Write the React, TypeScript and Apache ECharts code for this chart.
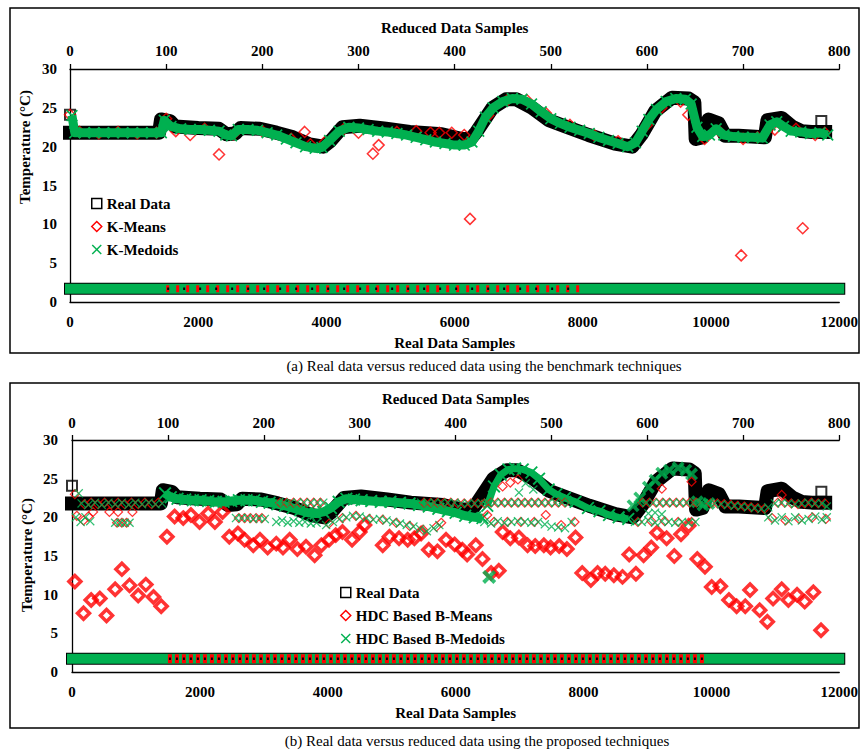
import React, { useEffect, useRef } from "react";
import * as echarts from "echarts";

const FONT = "'Liberation Serif', 'Times New Roman', serif";
const GREEN = "#00B050";
const RED = "#FF0000";

// Real (raw) temperature trace, indexed by real sample number
const realSampleIndex = [0, 1390, 1420, 1560, 1640, 2000, 2320, 2440, 2580, 2660, 2960, 3220, 3480, 3740, 3950, 4060, 4250, 4520, 4930, 5300, 5800, 6100, 6250, 6340, 6590, 6800, 6960, 7210, 7470, 7730, 8090, 8500, 8770, 8920, 9130, 9390, 9650, 9740, 9760, 9860, 9960, 10120, 10220, 10430, 10840, 10880, 11100, 11260, 11410, 11570, 11780];
const realTemperature = [21.8, 21.8, 23.5, 23.3, 22.6, 22.4, 22.3, 21.6, 21.7, 22.4, 22.3, 21.8, 21.2, 20.3, 20.0, 20.7, 22.5, 22.7, 22.3, 21.9, 21.6, 21.0, 21.0, 21.9, 25.0, 26.1, 26.1, 25.0, 23.4, 22.6, 21.5, 20.4, 20.0, 21.6, 24.6, 26.3, 26.2, 25.7, 21.0, 21.2, 23.5, 23.0, 21.4, 21.4, 21.2, 23.4, 23.7, 22.6, 22.0, 21.9, 21.9];
const realIsolatedIndex = [0, 11720];
const realIsolatedTemp = [24.1, 23.3];

// Row of markers drawn at the foot of both panels
const stripLevel = 1.7;
const stripSpan = [0, 12000];
const kMeansStripSpan = [1500, 8000];
const bMeansStripSpan = [1500, 9925];

// (a) K-Means: [reduced sample, temperature]
const kMeansPoints: number[][] = [
  [0, 24.1], [155, 19.0], [244, 21.9], [315, 19.1], [321, 20.2], [384, 21.8], [397, 21.8], [416, 10.7], [643, 24.1], [698, 6.0], [729, 22.6], [762, 9.5],
  [10, 21.9], [30, 21.7], [50, 21.9], [70, 21.7], [90, 21.8], [100, 23.6], [110, 22.0], [125, 21.5], [140, 22.3], [170, 21.6], [200, 22.0], [230, 21.0],
  [250, 20.3], [265, 20.6], [285, 22.3], [300, 21.8], [340, 21.9], [360, 22.0], [375, 21.8], [410, 21.5], [435, 24.0], [455, 26.0], [475, 26.0],
  [495, 24.3], [520, 22.8], [545, 21.5], [570, 20.7], [600, 22.8], [615, 25.0], [635, 25.8], [660, 21.0], [675, 22.0], [700, 21.0], [715, 21.2],
  [733, 22.2], [755, 22.3], [775, 21.5], [785, 21.8],
];

// (a) K-Medoids: [reduced sample, temperature]
const kMedoidsPoints: number[][] = [
  [2, 24.0], [5, 21.8], [15, 21.8], [25, 21.8], [35, 21.8], [45, 21.8], [55, 21.8], [65, 21.8], [75, 21.8], [85, 21.8], [95, 21.8], [98, 23.4],
  [105, 22.6], [115, 22.3], [125, 22.2], [135, 22.2], [145, 22.1], [155, 22.0], [162, 21.5], [168, 21.4], [175, 22.2], [185, 22.2], [195, 22.1],
  [205, 21.8], [215, 21.5], [225, 21.0], [235, 20.5], [245, 20.0], [255, 19.8], [262, 19.9], [270, 20.8], [280, 22.0], [290, 22.5], [300, 22.4],
  [310, 22.2], [320, 22.0], [330, 21.9], [340, 21.7], [350, 21.5], [360, 21.2], [370, 20.9], [380, 20.6], [390, 20.4], [400, 20.2], [410, 20.2],
  [418, 20.6], [425, 22.0], [432, 23.8], [440, 25.0], [450, 25.8], [460, 26.2], [470, 26.1], [480, 25.5], [490, 24.5], [500, 23.6], [510, 23.0],
  [520, 22.5], [530, 22.1], [540, 21.7], [550, 21.2], [560, 20.8], [570, 20.4], [580, 20.0], [588, 20.5], [595, 22.0], [602, 23.5], [610, 24.8],
  [620, 25.8], [630, 26.2], [640, 26.1], [646, 25.5], [652, 22.5], [658, 21.3], [665, 21.5], [672, 22.3], [680, 21.5], [690, 21.3], [700, 21.2],
  [710, 21.2], [720, 21.1], [728, 22.8], [735, 23.2], [742, 22.6], [750, 22.0], [760, 21.9], [770, 21.7], [780, 21.8], [788, 21.5],
];

// (b) HDC Based B-Means, centroids far from the trace
const bMeansLow: number[][] = [
  [3, 11.7], [12, 7.6], [20, 9.3], [29, 9.5], [36, 7.3], [45, 10.7], [52, 13.3], [60, 11.2], [69, 9.9], [77, 11.3], [85, 9.7], [93, 8.5],
  [99, 17.5], [107, 20.1], [116, 19.9], [124, 20.3], [133, 19.4], [142, 20.5], [149, 19.4], [157, 20.7], [164, 17.5], [173, 17.9], [180, 17.1],
  [189, 16.4], [196, 17.1], [204, 16.1], [213, 16.6], [220, 16.1], [227, 17.1], [235, 15.9], [244, 16.2], [253, 15.1], [260, 16.4], [268, 17.1],
  [275, 17.7], [282, 18.1], [292, 17.1], [300, 18.1], [305, 19.0], [324, 16.4], [331, 17.5], [341, 17.3], [350, 17.1], [357, 17.3], [364, 17.9],
  [372, 15.8], [381, 15.6], [390, 17.1], [399, 16.5], [407, 15.8], [412, 15.2], [421, 16.4], [428, 14.6], [437, 12.8], [445, 13.1], [449, 18.1],
  [457, 17.3], [466, 17.4], [475, 16.4], [483, 16.3], [492, 16.4], [499, 16.1], [508, 16.3], [516, 15.9], [525, 17.4], [532, 12.8], [541, 11.9],
  [548, 12.8], [556, 12.7], [565, 12.5], [574, 12.3], [581, 15.2], [588, 12.7], [596, 15.1], [604, 16.1], [610, 18.0], [620, 17.3], [628, 15.0],
  [635, 17.8], [643, 18.9], [652, 14.6], [660, 13.6], [667, 11.0], [676, 11.1], [685, 9.3], [693, 8.5], [702, 8.5], [707, 10.6], [717, 8.0],
  [725, 6.5], [731, 9.5], [740, 10.7], [747, 9.3], [756, 10.0], [764, 9.1], [773, 10.3], [781, 5.4],
];

// (b) HDC Based B-Means, centroids close to the trace
const bMeansNear: number[][] = [
  [3, 23.0], [5, 20.2], [12, 19.6], [17, 20.1],
  [13, 21.7], [20, 21.9], [27, 21.7], [34, 21.9], [41, 21.7], [48, 21.9], [55, 21.7], [62, 21.9], [69, 21.7], [76, 21.9], [83, 21.7], [90, 21.9],
  [22, 20.7], [39, 20.7], [48, 20.7], [63, 20.7], [47, 19.3], [52, 19.3], [57, 19.3],
  [174, 19.9], [180, 19.9], [186, 19.9], [192, 19.9], [198, 19.9],
  [217, 21.9], [224, 21.9], [231, 21.9], [238, 21.9], [245, 21.9], [252, 21.9], [259, 21.9],
  [268, 19.2], [282, 19.9], [296, 20.2], [310, 19.8], [324, 19.7], [338, 19.3], [352, 18.9], [366, 18.4], [380, 18.8], [385, 19.3],
  [367, 21.9], [374, 21.9], [381, 21.9], [388, 21.9], [395, 21.9], [402, 21.8], [409, 21.8], [416, 21.8], [423, 21.8], [430, 21.8],
  [437, 21.9], [444, 21.9], [451, 21.9], [458, 21.9], [465, 21.9], [472, 21.9], [479, 21.9], [486, 21.9], [493, 21.9], [500, 21.9], [507, 21.9], [514, 21.9],
  [433, 20.3], [440, 19.4], [454, 19.4], [468, 19.4], [482, 19.4], [494, 20.3], [510, 19.0], [524, 19.4],
  [449, 24.0], [457, 24.5], [465, 24.9],
  [595, 21.9], [602, 21.9], [609, 21.9], [616, 21.9], [623, 21.9], [630, 21.9], [637, 21.9], [644, 21.9], [651, 21.9],
  [590, 19.4], [604, 19.5], [618, 19.5], [632, 19.4], [646, 19.4], [615, 23.7], [646, 24.6],
  [666, 21.8], [673, 21.8], [680, 21.7], [687, 21.6], [694, 21.5], [701, 21.4], [708, 21.3], [715, 21.2], [722, 21.1],
  [736, 21.9], [743, 21.9], [750, 21.8], [757, 21.7], [764, 21.8], [771, 21.9], [778, 21.8], [785, 21.8],
  [740, 22.9], [730, 19.9], [744, 19.6], [758, 19.8], [772, 20.0], [786, 19.8],
];

// (b) HDC Based B-Medoids that follow the trace
const bMedoidsTraceA: number[][] = [
  [97, 23.1], [103, 22.6], [110, 22.4], [118, 22.3], [126, 22.2], [134, 22.2], [142, 22.1], [150, 22.0], [158, 22.0], [166, 22.1], [174, 22.2],
  [182, 22.2], [190, 22.2], [198, 22.0], [206, 21.9], [214, 21.7], [222, 21.5], [230, 21.2], [238, 20.9], [246, 20.6], [254, 20.5], [262, 20.7],
  [270, 21.2], [278, 22.0], [286, 22.4], [294, 22.3], [302, 22.2], [312, 22.1], [322, 22.0], [332, 22.0], [342, 21.9], [352, 21.8], [362, 21.6],
  [372, 21.4], [382, 21.1], [392, 20.8], [400, 20.6], [410, 20.2], [420, 20.0], [428, 19.9],
];
const bMedoidsTraceB: number[][] = [
  [433, 21.5], [440, 24.0], [447, 25.5], [455, 26.2], [462, 26.3], [470, 26.2], [479, 25.8], [487, 25.0], [497, 23.6], [505, 23.0], [514, 22.5],
  [525, 22.0], [538, 21.2], [550, 20.8], [560, 20.3], [570, 20.0], [580, 19.8],
];
const bMedoidsTraceC: number[][] = [
  [585, 21.5], [592, 22.5], [601, 23.9], [608, 24.8], [615, 25.7], [623, 26.1], [632, 26.4], [640, 26.1], [646, 25.6], [652, 22.0], [658, 21.6], [664, 21.8],
];
// (b) HDC Based B-Medoids, remaining medoids
const bMedoidsOther: number[][] = [
  [4, 20.0], [9, 19.4], [14, 20.0], [19, 19.5], [7, 23.1],
  [10, 21.8], [17, 21.6], [24, 21.9], [31, 21.6], [38, 21.9], [45, 21.7], [52, 21.9], [59, 21.6], [66, 21.9], [73, 21.7], [80, 21.9], [87, 21.7], [94, 21.8],
  [45, 19.3], [50, 19.3], [55, 19.3], [60, 19.3],
  [171, 19.9], [177, 19.9], [183, 19.9], [189, 19.8], [195, 19.9], [201, 19.8],
  [214, 21.9], [221, 21.9], [228, 21.9], [235, 21.9], [242, 21.9], [249, 21.9], [256, 21.9], [262, 21.9],
  [213, 19.4], [219, 19.6], [225, 19.3], [231, 19.5], [237, 19.3], [243, 19.4], [249, 19.2], [255, 19.3],
  [265, 19.0], [272, 19.4], [279, 19.8], [286, 20.0], [293, 20.2], [300, 20.1], [307, 19.9], [314, 19.7], [321, 19.8], [328, 19.6], [335, 19.4],
  [342, 19.2], [349, 19.0], [356, 18.8], [363, 18.5], [370, 18.2], [377, 18.6], [383, 19.0],
  [364, 21.9], [371, 21.9], [378, 21.9], [385, 21.9], [392, 21.9], [399, 21.9], [406, 21.8], [413, 21.8], [420, 21.8], [427, 21.8],
  [434, 21.9], [441, 21.9], [448, 21.9], [455, 21.9], [462, 21.9], [469, 21.9], [476, 21.9], [483, 21.9], [490, 21.9], [497, 21.9], [504, 21.9], [511, 21.9], [518, 21.9],
  [430, 19.4], [437, 19.2], [444, 19.5], [451, 19.3], [458, 19.4], [465, 19.5], [472, 19.4], [479, 19.3], [486, 19.4], [493, 19.1], [500, 18.8], [507, 18.7], [514, 18.6], [521, 19.4],
  [466, 23.2], [473, 24.4], [481, 23.6],
  [592, 21.9], [599, 21.9], [606, 21.9], [613, 21.9], [620, 21.9], [627, 21.9], [634, 21.9], [641, 21.9], [648, 21.9], [656, 21.9],
  [587, 19.4], [594, 19.4], [601, 19.6], [608, 19.3], [615, 19.5], [622, 19.4], [629, 19.3], [636, 19.4], [643, 19.3], [650, 19.4],
  [601, 20.5], [608, 20.6], [615, 20.4],
  [663, 21.8], [670, 21.8], [677, 21.7], [684, 21.6], [691, 21.5], [698, 21.4], [705, 21.3], [712, 21.2], [719, 21.1], [726, 21.3],
  [733, 21.8], [740, 21.9], [747, 21.8], [754, 21.7], [761, 21.8], [768, 21.9], [775, 21.8], [782, 21.8], [787, 21.4],
  [726, 20.0], [733, 19.6], [740, 20.0], [747, 19.5], [754, 20.0], [761, 19.6], [768, 19.8], [775, 20.1], [782, 19.7], [787, 20.0],
];
const bMedoidsOutlier: number[][] = [[435, 12.3]];

const CROSS = "path://M0,1L1,0L5,4L9,0L10,1L6,5L10,9L9,10L5,6L1,10L0,9L4,5Z";
const CROSS_BOLD = "path://M0,2L2,0L5,3L8,0L10,2L7,5L10,8L8,10L5,7L2,10L0,8L3,5Z";
const CLEAR = "rgba(255,255,255,0)";

const realPairs = realSampleIndex.map((x, i) => [x, realTemperature[i]]);
const realIsolated = realIsolatedIndex.map((x, i) => [x, realIsolatedTemp[i]]);
const span = (s: number[]) => [[s[0], stripLevel], [s[1], stripLevel]];

const tickLabel = { fontFamily: FONT, fontWeight: "bold" as const, fontSize: 15, color: "#000" };
const plain = (v: number) => String(v);
const axisLine = { onZero: false, lineStyle: { color: "#000", width: 1.3 } };

function realSeries(name: string, xi: number, yi: number) {
  return [
    {
      name, type: "line", xAxisIndex: xi, yAxisIndex: yi, data: realPairs, showSymbol: false, z: 2,
      lineStyle: { color: "#000", width: 14, cap: "square", join: "round" },
    },
    {
      name, type: "scatter", xAxisIndex: xi, yAxisIndex: yi, data: realIsolated, symbol: "rect", symbolSize: 10, z: 3,
      itemStyle: { color: CLEAR, borderColor: "#000", borderWidth: 2 },
    },
  ];
}

function stripSeries(xi: number, yi: number, realName: string, medName: string, meansName: string, meansSpan: number[], dense: boolean) {
  return [
    { name: realName, type: "line", xAxisIndex: xi, yAxisIndex: yi, data: span(stripSpan), showSymbol: false, z: 2,
      lineStyle: { color: "#000", width: 12, cap: "square" } },
    { name: medName, type: "line", xAxisIndex: xi, yAxisIndex: yi, data: span(stripSpan), showSymbol: false, z: 3,
      lineStyle: { color: GREEN, width: 10, cap: "square" } },
    { name: meansName, type: "line", xAxisIndex: xi, yAxisIndex: yi, data: span(meansSpan), showSymbol: false, z: 4,
      lineStyle: { color: RED, width: dense ? 9 : 7, type: dense ? [4, 3] : [3, 7] } },
    { name: realName, type: "line", xAxisIndex: xi, yAxisIndex: yi, data: span(meansSpan), showSymbol: false, z: 5,
      lineStyle: { color: "#000", width: 2.5, type: dense ? [2, 5] : [2, 14], dashOffset: -1 } },
  ];
}

export default function App() {
  const ref = useRef<HTMLDivElement>(null);

  useEffect(() => {
    if (!ref.current) return;
    const chart = echarts.init(ref.current, undefined, { renderer: "svg" });

    const xBottom = (gridIndex: number) => ({
      type: "value", gridIndex, position: "bottom", min: 0, max: 12000, interval: 2000,
      axisLine, axisTick: { show: false }, splitLine: { show: false },
      axisLabel: { ...tickLabel, margin: 12, formatter: plain },
      name: "Real Data Samples", nameLocation: "middle", nameGap: 33,
      nameTextStyle: { ...tickLabel },
    });
    const xTop = (gridIndex: number, margin: number) => ({
      type: "value", gridIndex, position: "top", min: 0, max: 800, interval: 100,
      axisLine, axisTick: { show: true, length: 5, lineStyle: { color: "#000", width: 1.3 } }, splitLine: { show: false },
      axisLabel: { ...tickLabel, margin, formatter: plain },
      name: "Reduced Data Samples", nameLocation: "middle", nameGap: 34,
      nameTextStyle: { ...tickLabel },
    });
    const yAx = (gridIndex: number, margin: number) => ({
      type: "value", gridIndex, min: 0, max: 30, interval: 5,
      axisLine: { show: true, ...axisLine }, axisTick: { show: false }, splitLine: { show: false },
      axisLabel: { ...tickLabel, margin, formatter: plain },
    });

    const legendText = { fontFamily: FONT, fontWeight: "bold" as const, fontSize: 15, color: "#000", lineHeight: 14 };

    chart.setOption({
      animation: false,
      backgroundColor: "#fff",
      grid: [
        { left: 70, top: 69, width: 771, height: 233 },
        { left: 72, top: 440, width: 769, height: 232 },
      ],
      xAxis: [xBottom(0), xTop(0, 11), xBottom(1), xTop(1, 10)],
      yAxis: [yAx(0, 13), yAx(1, 14)],
      legend: [
        {
          left: 86, top: 191, orient: "vertical", itemWidth: 10, itemHeight: 10, itemGap: 8, selectedMode: false,
          textStyle: legendText,
          data: [
            { name: "Real Data", icon: "rect", itemStyle: { color: CLEAR, borderColor: "#000", borderWidth: 1.5 } },
            { name: "K-Means", icon: "diamond", itemStyle: { color: CLEAR, borderColor: RED, borderWidth: 1.5 } },
            { name: "K-Medoids", icon: CROSS, itemStyle: { color: GREEN, borderWidth: 0 } },
          ],
        },
        {
          left: 335, top: 580, orient: "vertical", itemWidth: 10, itemHeight: 10, itemGap: 8, selectedMode: false,
          textStyle: legendText,
          data: [
            { name: "Real Data ", icon: "rect", itemStyle: { color: CLEAR, borderColor: "#000", borderWidth: 1.5 } },
            { name: "HDC Based B-Means", icon: "diamond", itemStyle: { color: CLEAR, borderColor: RED, borderWidth: 1.5 } },
            { name: "HDC Based B-Medoids", icon: CROSS, itemStyle: { color: GREEN, borderWidth: 0 } },
          ],
        },
      ],
      graphic: [
        { type: "rect", silent: true, shape: { x: 10, y: 8, width: 849, height: 345 }, style: { fill: "none", stroke: "#000", lineWidth: 1.5 } },
        { type: "rect", silent: true, shape: { x: 10, y: 383, width: 849, height: 345 }, style: { fill: "none", stroke: "#000", lineWidth: 1.5 } },
        { type: "text", x: 25, y: 147, rotation: Math.PI / 2, silent: true,
          style: { text: "Temperature (°C)", font: `bold 15px ${FONT}`, fill: "#000", align: "center", verticalAlign: "middle" } },
        { type: "text", x: 27, y: 555, rotation: Math.PI / 2, silent: true,
          style: { text: "Temperature (°C)", font: `bold 15px ${FONT}`, fill: "#000", align: "center", verticalAlign: "middle" } },
        { type: "text", x: 484, y: 366, silent: true,
          style: { text: "(a) Real data versus reduced data using the benchmark techniques", font: `15px ${FONT}`, fill: "#000", align: "center", verticalAlign: "middle" } },
        { type: "text", x: 477, y: 741, silent: true,
          style: { text: "(b) Real data versus reduced data using the proposed techniques", font: `15px ${FONT}`, fill: "#000", align: "center", verticalAlign: "middle" } },
      ],
      series: [
        // (a) benchmark techniques
        ...realSeries("Real Data", 0, 0),
        ...stripSeries(0, 0, "Real Data", "K-Medoids", "K-Means", kMeansStripSpan, false),
        {
          name: "K-Means", type: "scatter", xAxisIndex: 1, yAxisIndex: 0, data: kMeansPoints, symbol: "diamond", symbolSize: 11, z: 4,
          itemStyle: { color: CLEAR, borderColor: RED, borderWidth: 1.5 },
        },
        {
          name: "K-Medoids", type: "line", xAxisIndex: 1, yAxisIndex: 0, data: kMedoidsPoints, z: 5,
          symbol: CROSS, symbolSize: 12, showSymbol: true, itemStyle: { color: GREEN },
          lineStyle: { color: GREEN, width: 9, join: "round" },
        },
        // (b) proposed techniques
        ...realSeries("Real Data ", 2, 1),
        ...stripSeries(2, 1, "Real Data ", "HDC Based B-Medoids", "HDC Based B-Means", bMeansStripSpan, true),
        {
          name: "HDC Based B-Means", type: "scatter", xAxisIndex: 3, yAxisIndex: 1, data: bMeansLow, symbol: "diamond", symbolSize: 12, z: 4,
          itemStyle: { color: CLEAR, borderColor: RED, borderWidth: 3.5 },
        },
        {
          name: "HDC Based B-Medoids", type: "line", xAxisIndex: 3, yAxisIndex: 1, data: bMedoidsTraceA, z: 5,
          symbol: CROSS, symbolSize: 13, showSymbol: true, itemStyle: { color: GREEN },
          lineStyle: { color: GREEN, width: 9, join: "round" },
        },
        {
          name: "HDC Based B-Medoids", type: "line", xAxisIndex: 3, yAxisIndex: 1, data: bMedoidsTraceB, z: 5,
          symbol: CROSS, symbolSize: 13, showSymbol: true, itemStyle: { color: GREEN },
          lineStyle: { color: GREEN, width: 7, join: "round" },
        },
        {
          name: "HDC Based B-Medoids", type: "scatter", xAxisIndex: 3, yAxisIndex: 1, data: bMedoidsTraceC, z: 5,
          symbol: CROSS_BOLD, symbolSize: 13, itemStyle: { color: GREEN },
        },
        {
          name: "HDC Based B-Means", type: "scatter", xAxisIndex: 3, yAxisIndex: 1, data: bMeansNear, symbol: "diamond", symbolSize: 9, z: 6,
          itemStyle: { color: CLEAR, borderColor: RED, borderWidth: 1.2 },
        },
        {
          name: "HDC Based B-Medoids", type: "scatter", xAxisIndex: 3, yAxisIndex: 1, data: bMedoidsOther, symbol: CROSS, symbolSize: 9, z: 7,
          itemStyle: { color: GREEN },
        },
        {
          name: "HDC Based B-Medoids", type: "scatter", xAxisIndex: 3, yAxisIndex: 1, data: bMedoidsOutlier, symbol: CROSS_BOLD, symbolSize: 14, z: 7,
          itemStyle: { color: GREEN },
        },
      ],
    });

    return () => chart.dispose();
  }, []);

  return <div ref={ref} style={{ position: "absolute", left: 0, top: 0, width: 861, height: 751 }} />;
}
